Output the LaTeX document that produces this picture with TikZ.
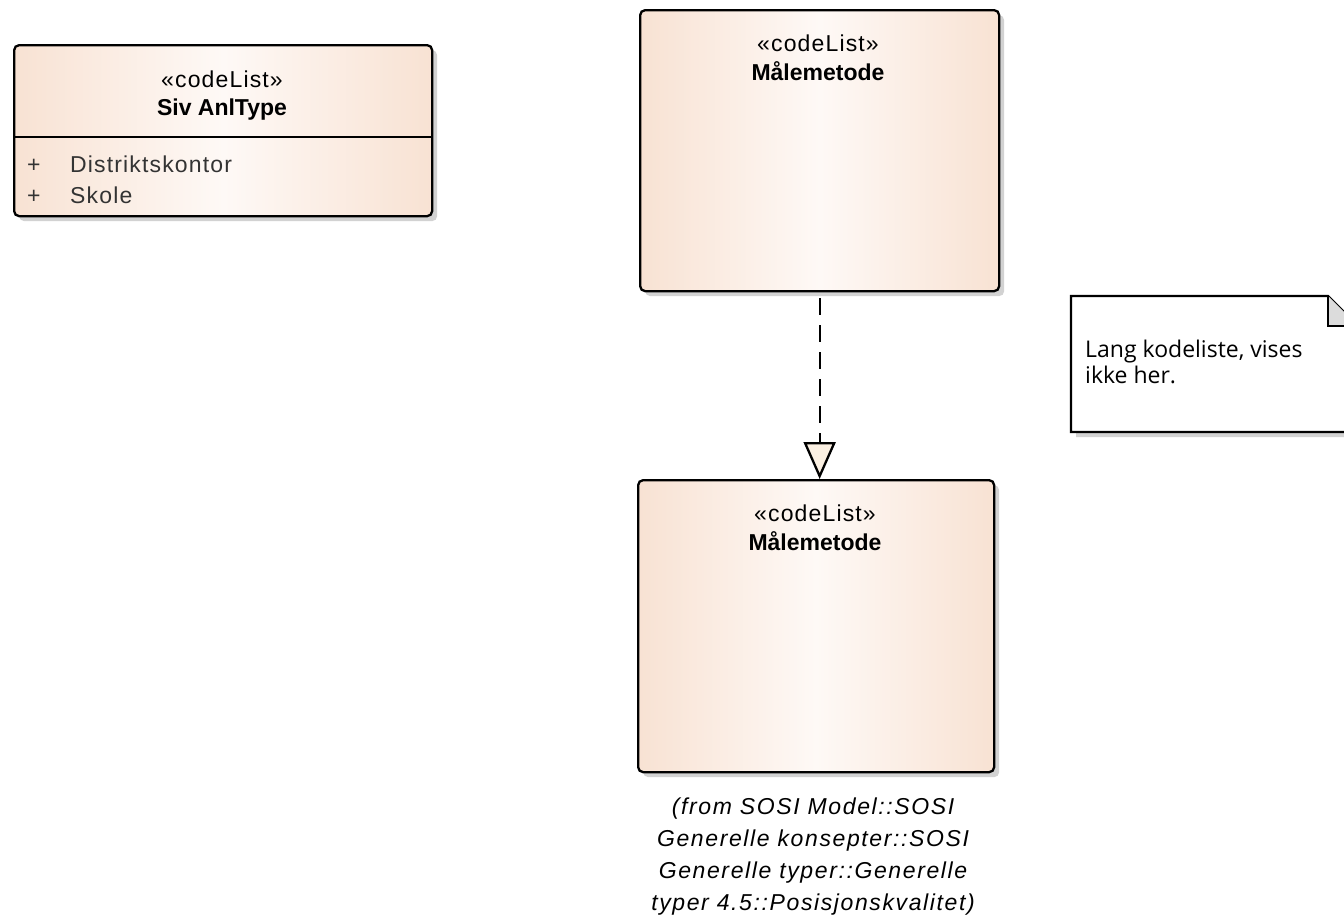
\documentclass[tikz,border=0pt]{standalone}
\usepackage{fontspec}
\setmainfont{Liberation Sans}[LetterSpace=5]
\newfontfamily\headfont{Liberation Sans}
\newfontfamily\fromfont{Liberation Sans}[LetterSpace=7]
\newfontfamily\notefont{Open Sans}
\usetikzlibrary{shadows,arrows.meta}

\definecolor{peach}{RGB}{248,226,211}
\definecolor{peachmid}{RGB}{254,249,246}
\definecolor{tipfill}{RGB}{251,240,226}
\definecolor{foldgrey}{RGB}{220,220,220}
\definecolor{shadowgrey}{RGB}{210,210,210}

\tikzset{
  boxshadow/.style={drop shadow={shadow xshift=5pt, shadow yshift=-5pt, fill=shadowgrey, opacity=1}},
  classbox/.style={draw, line width=2.3pt, rounded corners=5pt, inner sep=0pt, anchor=north west,
    left color=peach, right color=peach, middle color=peachmid, boxshadow},
  stereo/.style={anchor=base, inner sep=0pt, font=\fontsize{23}{28}\selectfont},
  classname/.style={anchor=base, inner sep=0pt, font=\headfont\bfseries\fontsize{23}{28}\selectfont},
  attr/.style={anchor=base west, inner sep=0pt, text=black!80, font=\fontsize{23}{28}\selectfont},
  fromtext/.style={anchor=north, inner sep=0pt, align=center, font=\fromfont\itshape\fontsize{23}{32}\selectfont},
  notetext/.style={anchor=north west, inner sep=0pt, align=left, font=\notefont\fontsize{23}{26}\selectfont},
}

\begin{document}
\begin{tikzpicture}[x=1pt, y=-1pt]
  \useasboundingbox (0,0) rectangle (1344,919);
  \clip (0,0) rectangle (1344,919);

  \node[classbox, minimum width=418pt, minimum height=171pt] (siv) at (13,44) {};
  \draw[line width=2.3pt] ([yshift=-93pt]siv.north west) -- ([yshift=-93pt]siv.north east);
  \node[stereo] (sivstereo) at (222,87) {«codeList»};
  \node[classname] (sivname) at (222,115) {Siv AnlType};
  \node[attr] (plus1) at (27,172) {+};
  \node[attr] (attr1) at (70,172) {Distriktskontor};
  \node[attr] (plus2) at (27,203) {+};
  \node[attr] (attr2) at (70,203) {Skole};

  \node[classbox, minimum width=359pt, minimum height=281pt] (mtop) at (639,9) {};
  \node[stereo] (mtopstereo) at (818,51) {«codeList»};
  \node[classname] (mtopname) at (818,80) {Målemetode};

  \node[classbox, minimum width=356pt, minimum height=292pt] (mbot) at (637,479) {};
  \node[stereo] (mbotstereo) at (815,521) {«codeList»};
  \node[classname] (mbotname) at (815,550) {Målemetode};
  \node[fromtext] (mfrom) at (813,798) {(from SOSI Model::SOSI\\Generelle konsepter::SOSI\\Generelle typer::Generelle\\typer 4.5::Posisjonskvalitet)};

  \draw[line width=2.3pt, dash pattern=on 17pt off 10pt, dash phase=21pt,
    -{Triangle[length=37pt, width=32pt, fill=tipfill]}] (mtop.south) -- (mtop.south |- mbot.north);

  \draw[line width=2.3pt, fill=white, boxshadow]
    (1071,296) -- (1328,296) -- (1358,326) -- (1358,432) -- (1071,432) -- cycle;
  \draw[line width=2.3pt, fill=foldgrey] (1328,296) -- (1328,326) -- (1358,326);
  \node[notetext] (note) at (1085,340) {Lang kodeliste, vises\\ikke her.};
\end{tikzpicture}
\end{document}
